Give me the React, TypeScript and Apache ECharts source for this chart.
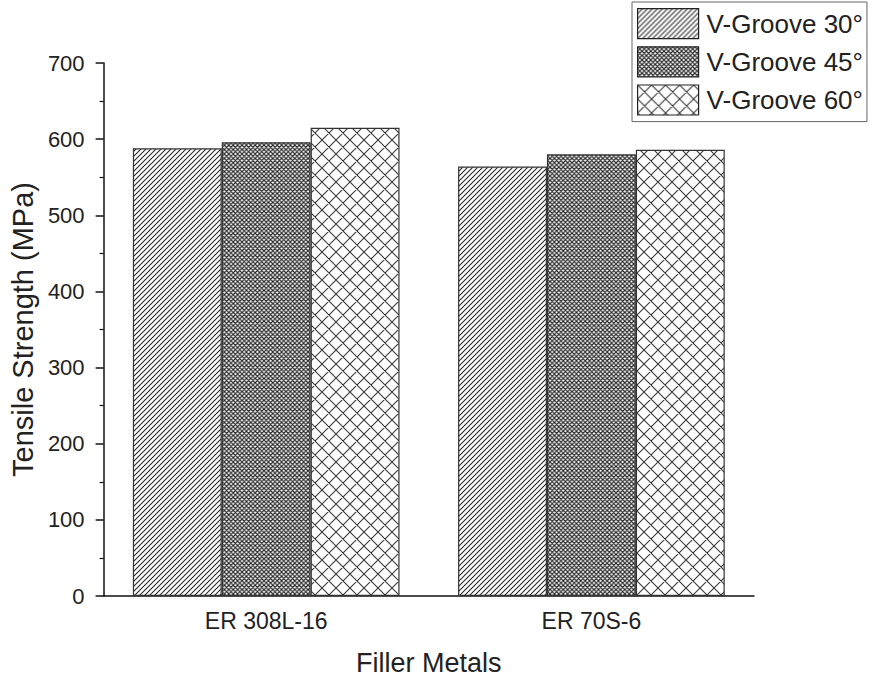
import React, { useEffect, useRef } from 'react';
import * as echarts from 'echarts';

const categories = ['ER 308L-16', 'ER 70S-6'];
const seriesNames = ['V-Groove 30°', 'V-Groove 45°', 'V-Groove 60°'];
const groove30 = [588, 564];
const groove45 = [596, 580];
const groove60 = [615, 586];
const yMin = 0;
const yMax = 700;
const yInterval = 100;

function tile(s: number, w: number, color: string, slash: boolean, back: boolean) {
  const parts: string[] = [];
  if (slash) parts.push(`M-1,${s + 1}L${s + 1},-1M-1,1L1,-1M${s - 1},${s + 1}L${s + 1},${s - 1}`);
  if (back) parts.push(`M-1,-1L${s + 1},${s + 1}M${s - 1},-1L${s + 1},1M-1,${s - 1}L1,${s + 1}`);
  const svg = `<svg xmlns="http://www.w3.org/2000/svg" width="${s}" height="${s}" viewBox="0 0 ${s} ${s}"><rect width="${s}" height="${s}" fill="#fff"/><path d="${parts.join('')}" stroke="${color}" stroke-width="${w}" fill="none"/></svg>`;
  return {
    image: 'data:image/svg+xml;charset=utf-8,' + encodeURIComponent(svg),
    repeat: 'repeat',
    imageWidth: s,
    imageHeight: s,
  };
}

const FONT = '"Liberation Sans", Arial, Helvetica, sans-serif';

export default function App() {
  const ref = useRef<HTMLDivElement>(null);
  useEffect(() => {
    document.body.style.margin = '0';
    document.body.style.overflow = 'hidden';
    if (!ref.current) return;
    const chart = echarts.init(ref.current, null, { renderer: 'svg' });
    const patterns = [
      tile(5, 1.1, '#2a2a2a', true, false),
      tile(4.4, 1.15, '#2a2a2a', true, true),
      tile(14, 1.1, '#3a3a3a', true, true),
    ];
    const values = [groove30, groove45, groove60];
    chart.setOption({
      animation: false,
      backgroundColor: '#fff',
      textStyle: { fontFamily: FONT },
      grid: { left: 95, right: 121, top: 63, bottom: 84 },
      legend: {
        orient: 'vertical',
        left: 632,
        top: 2,
        padding: [6, 4, 6, 5],
        itemGap: 7,
        itemWidth: 61,
        itemHeight: 30,
        borderColor: '#666',
        borderWidth: 1,
        icon: 'rect',
        data: seriesNames,
        itemStyle: { borderColor: '#222', borderWidth: 1.2 },
        textStyle: { fontSize: 26, color: '#222', fontFamily: FONT, padding: [0, 0, 0, 3] },
      },
      xAxis: {
        type: 'category',
        data: categories,
        axisLine: { lineStyle: { color: '#111', width: 1.5 } },
        axisTick: { alignWithLabel: true, length: 10, lineStyle: { color: '#111', width: 1.5 } },
        axisLabel: { fontSize: 23, color: '#222', margin: 13, fontFamily: FONT },
        name: 'Filler Metals',
        nameLocation: 'middle',
        nameGap: 53,
        nameTextStyle: { fontSize: 27, color: '#222', fontFamily: FONT },
      },
      yAxis: {
        type: 'value',
        min: yMin,
        max: yMax,
        interval: yInterval,
        axisLine: { show: true, lineStyle: { color: '#111', width: 1.5 } },
        axisTick: { show: true, length: 8, lineStyle: { color: '#111', width: 1.5 } },
        minorTick: { show: true, splitNumber: 2, length: 4, lineStyle: { color: '#111', width: 1.2 } },
        splitLine: { show: false },
        axisLabel: { fontSize: 22, color: '#222', margin: 19, fontFamily: FONT },
        name: 'Tensile Strength (MPa)',
        nameLocation: 'middle',
        nameGap: 60,
        nameTextStyle: { fontSize: 29, color: '#222', fontFamily: FONT },
      },
      series: seriesNames.map((name, i) => ({
        name,
        type: 'bar',
        data: values[i],
        barGap: 0,
        barCategoryGap: '18%',
        itemStyle: { color: patterns[i], borderColor: '#333', borderWidth: 1.2 },
      })),
    });
    return () => chart.dispose();
  }, []);
  return <div ref={ref} style={{ width: 875, height: 681 }} />;
}
